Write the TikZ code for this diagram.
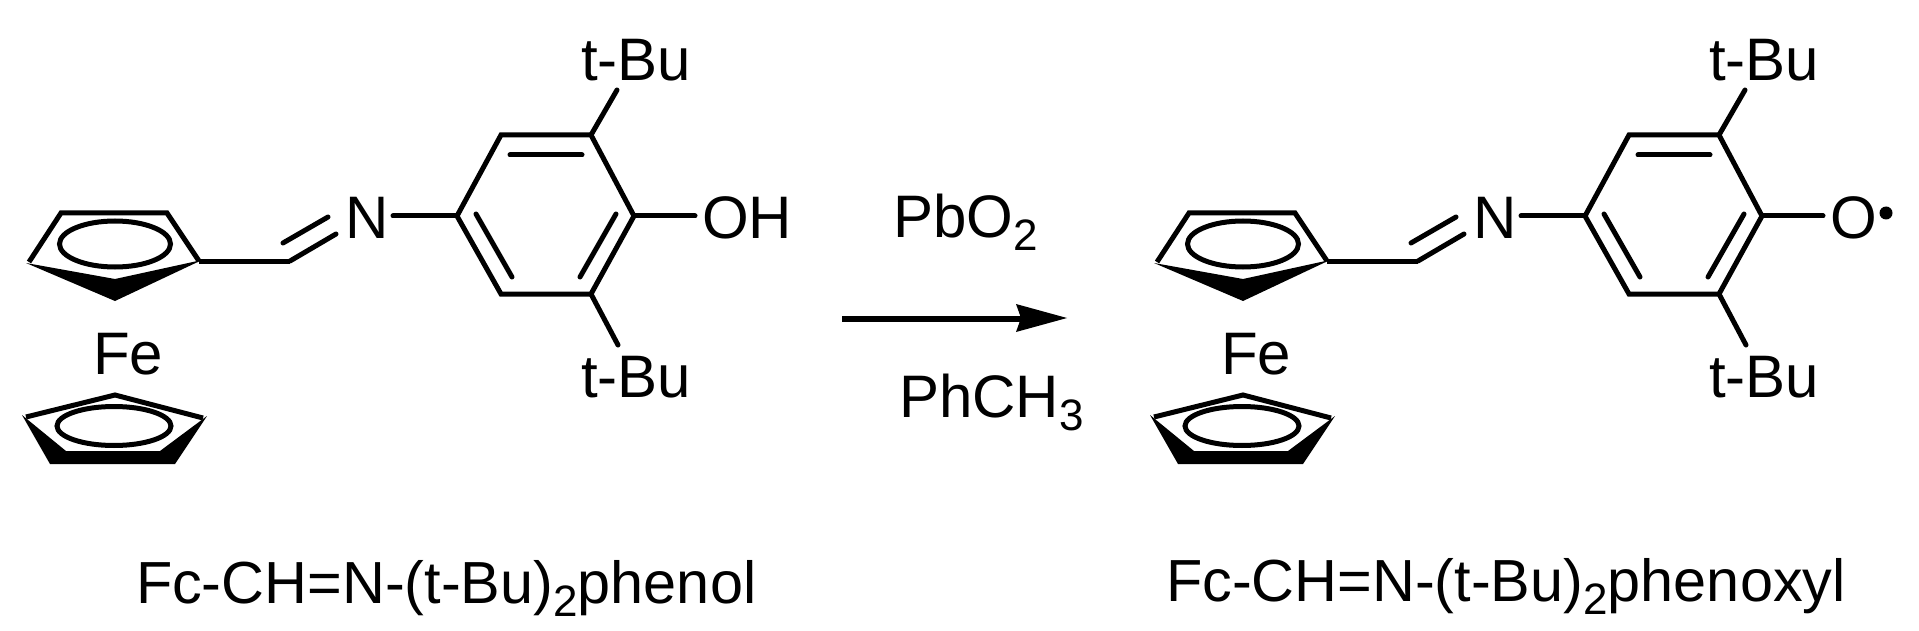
\documentclass[tikz,border=0pt]{standalone}
\usepackage{fontspec}
\setmainfont{Liberation Sans}
\newcommand{\bigf}{\fontsize{60}{60}\selectfont}
\newcommand{\labf}{\fontsize{59.4}{60}\selectfont}
\newcommand{\subf}{\fontsize{44}{45}\selectfont}
\newcommand{\sbs}[1]{\raisebox{-13pt}{\subf #1}}
\tikzset{
  bond/.style={line width=5pt,line cap=round,line join=miter,black},
  ringbond/.style={line width=5pt,line join=miter,black},
  wedge/.style={fill=black,draw=none},
  cpring/.style={line width=5pt,draw=black,fill=none},
  txt/.style={inner sep=0pt,outer sep=0pt,anchor=base west,text=black,font=\bigf},
  labeltxt/.style={txt,font=\labf},
}
\newcommand{\ferrocenyl}{%
  % upper Cp
  \coordinate (ua) at (29,262);
  \coordinate (ub) at (61,213);
  \coordinate (uc) at (167,213);
  \coordinate (ud) at (199,261);
  \coordinate (ua2) at (26,263);
  \coordinate (ud2) at (202,260);
  \coordinate (ue) at (115,301);
  \coordinate (uf) at (115,279);
  \coordinate (ug) at (115,244);
  \draw[ringbond] (ua) -- (ub) -- (uc) -- (ud);
  \fill[wedge] (ua2) -- (ue) -- (ud2) -- (uf) -- cycle;
  \draw[cpring] (ug) ellipse [x radius=55.5pt,y radius=23pt];
  % lower Cp
  \coordinate (la) at (26,417);
  \coordinate (lb) at (115,395);
  \coordinate (lc) at (203,418);
  \coordinate (la2) at (22,415);
  \coordinate (lc2) at (207,416);
  \coordinate (ld) at (175,464);
  \coordinate (le) at (50,464);
  \coordinate (lf) at (66,451);
  \coordinate (lg) at (160,451);
  \coordinate (lh) at (114,426);
  \draw[ringbond] (la) -- (lb) -- (lc);
  \fill[wedge] (la2) -- (le) -- (ld) -- (lc2) -- (lg) -- (lf) -- cycle;
  \draw[cpring] (lh) ellipse [x radius=57pt,y radius=19.5pt];
  \node[txt] (fe) at (93,374) {Fe};
  % imine
  \coordinate (ch) at (290,261);
  \coordinate (nb) at (336,234);
  \coordinate (di) at (283,243);
  \coordinate (dj) at (328,217);
  \draw[bond,line cap=butt] (ud) -- (ch);
  \draw[bond] (ch) -- (nb);
  \draw[bond] (di) -- (dj);
  \node[txt] (nn) at (345,239) {N};
  % ring
  \coordinate (r1) at (457,216);
  \coordinate (r2) at (501,135);
  \coordinate (r3) at (591,135);
  \coordinate (r4) at (634,216);
  \coordinate (r5) at (591,294);
  \coordinate (r6) at (501,294);
  \coordinate (nr) at (393,216);
  \draw[ringbond] (r1) -- (r2) -- (r3) -- (r4) -- (r5) -- (r6) -- cycle;
  \draw[bond] (nr) -- (r1);
  \coordinate (i1) at (510,155);
  \coordinate (i2) at (582,155);
  \coordinate (i3) at (476,214);
  \coordinate (i4) at (512,277);
  \coordinate (i5) at (616,214);
  \coordinate (i6) at (580,277);
  \draw[bond] (i1) -- (i2);
  \draw[bond] (i3) -- (i4);
  \draw[bond] (i5) -- (i6);
  \coordinate (ta) at (617,90);
  \coordinate (tb) at (618,345);
  \coordinate (oa) at (695,216);
  \draw[bond] (r3) -- (ta);
  \draw[bond] (r5) -- (tb);
  \draw[bond] (r4) -- (oa);
  \node[txt] (tbu1) at (581,81) {t-Bu};
  \node[txt] (tbu2) at (581,397) {t-Bu};
}
\begin{document}
\begin{tikzpicture}[x=1pt,y=-1pt]
\useasboundingbox (0,0) rectangle (1919,631);
\fill[white] (0,0) rectangle (1919,631);
\begin{scope}[name prefix=A-]
  \ferrocenyl
  \node[txt] (oh) at (702,239) {OH};
  \node[labeltxt] (namea) at (136,603) {Fc-CH=N-(t-Bu)\sbs{2}phenol};
\end{scope}
\begin{scope}[shift={(1128,0)},name prefix=B-]
  \ferrocenyl
  \node[txt] (oo) at (702,239) {O};
\end{scope}
\fill[black] (1886,213) circle [radius=6.5pt];
\node[labeltxt] (nameb) at (1166,601) {Fc-CH=N-(t-Bu)\sbs{2}phenoxyl};
% arrow
\coordinate (aa) at (842,319);
\coordinate (ab) at (1025,319);
\coordinate (at) at (1067,318);
\coordinate (au) at (1016,304);
\coordinate (av) at (1016,332);
\coordinate (aw) at (1021,318);
\draw[line width=6pt,black] (aa) -- (ab);
\fill[black] (at) -- (au) -- (aw) -- (av) -- cycle;
\node[txt] (pb) at (893,237) {PbO\sbs{2}};
\node[txt] (ph) at (899,417) {PhCH\sbs{3}};
\end{tikzpicture}
\end{document}
